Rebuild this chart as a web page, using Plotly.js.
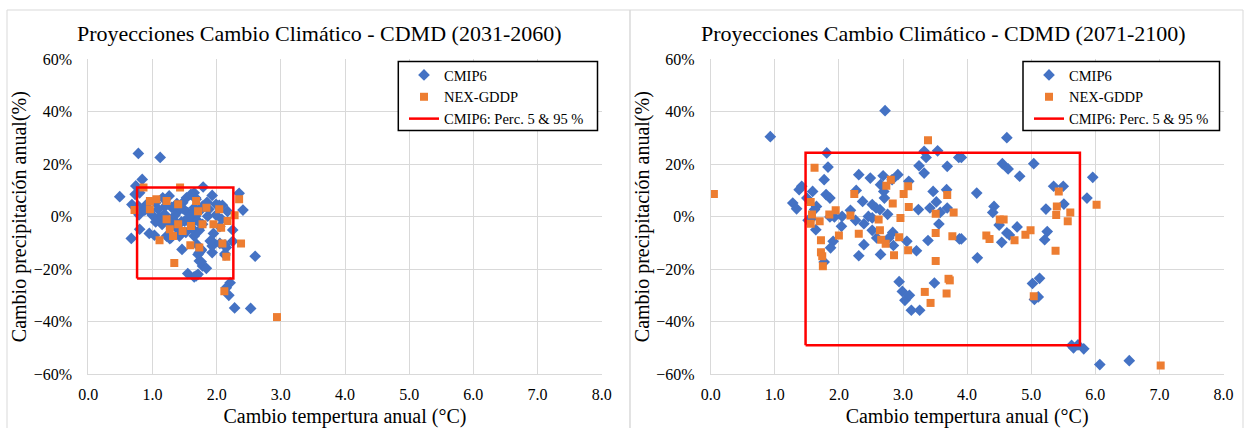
<!DOCTYPE html>
<html>
<head>
<meta charset="utf-8">
<script src="https://cdn.plot.ly/plotly-3.0.1.min.js"></script>
<style>html,body{margin:0;padding:0;background:#fff;}#chart{width:1250px;height:428px;}</style>
</head>
<body>
<div id="chart"></div>
<script>
// ---- Data: period 2031-2060 ----
const cmip6_2031_T = [0.78,1.12,0.84,0.74,0.80,0.73,0.49,0.68,0.78,0.79,0.80,0.67,0.95,1.03,1.22,1.27,1.46,1.55,1.65,1.71,1.73,1.76,1.73,1.78,1.84,1.93,1.93,1.93,1.95,2.05,2.13,2.15,2.25,2.25,2.17,2.09,1.99,1.93,1.79,1.65,1.67,2.35,2.41,2.60,2.21,2.15,2.19,2.28,2.53,0.91,0.95,1.05,1.09,1.16,1.26,1.11,1.19,1.24,1.32,1.29,1.37,1.40,1.47,1.53,1.60,1.50,1.58,1.42,1.60,1.65,1.67,1.69,1.68,2.04,1.78,1.88,1.99,1.86,2.08,1.78,1.73,1.65,1.90,2.05,2.13,1.76,1.71,2.13,1.76,1.68,1.30,1.35,1.45,1.55,1.62,1.52,1.38,1.20,1.00,1.15,1.48,1.56,1.70,1.44,1.34,1.60,1.75,1.85,1.05,0.88];
const cmip6_2031_P = [24.1,22.6,14.2,11.7,9.1,8.5,7.6,4.6,4.0,0.7,-4.8,-8.3,-6.4,-7.1,-7.4,-8.4,-12.5,-21.7,-23.0,-22.0,-13.7,-12.5,-16.9,-18.8,-19.7,-13.7,-11.2,-9.4,-6.4,-3.8,-14.6,-11.8,-9.4,-5.1,2.0,4.3,4.7,8.1,11.3,9.1,7.2,8.9,2.5,-15.1,-25.2,-27.1,-30.0,-34.8,-35.0,4.7,2.1,5.3,2.8,7.2,7.9,-0.4,0.9,-2.3,-1.0,-8.0,-4.2,2.1,5.3,7.2,8.5,-1.7,-0.4,-7.4,-2.9,3.4,0.2,-10.6,6.6,4.3,4.0,2.8,0.6,0.2,-1.0,-2.9,-5.2,-7.4,-9.3,-10.2,-10.8,-12.9,-14.4,-14.1,-17.2,-22.6,3.5,0.5,-2.0,1.5,-4.5,-6.0,5.0,4.0,0.5,-3.0,3.0,-1.0,-1.5,-5.5,-2.8,1.0,2.5,5.5,-2.0,2.5];
const nex_2031_T = [0.86,1.43,2.35,0.72,2.28,2.17,2.07,1.95,1.78,1.60,1.11,1.32,1.59,1.73,2.09,2.38,2.15,1.34,2.12,2.94,0.96,1.06,1.22,1.40,1.68,1.84,1.71,2.04,1.22,1.40,1.27,1.47,0.96];
const nex_2031_P = [11.1,11.1,6.6,2.5,0.5,-1.7,-4.2,-2.9,-2.9,-3.6,-9.0,-7.4,-10.9,-11.8,-10.2,-10.2,-15.3,-17.7,-28.4,-38.3,6.0,6.6,6.0,4.7,6.0,3.4,2.1,2.8,-1.0,-2.9,-4.8,-5.5,2.8];
const perc_2031_T = [0.76, 2.26];   // P5, P95 temperature
const perc_2031_P = [-23.6, 11.1];  // P5, P95 precipitation

// ---- Data: period 2071-2100 ----
const cmip6_2071_T = [0.93,2.72,1.81,1.83,1.77,1.42,1.38,1.59,1.50,1.80,1.86,1.28,1.34,1.65,1.62,1.57,1.52,1.64,1.86,1.93,2.05,2.04,1.91,1.87,1.77,2.18,2.27,2.31,2.49,2.37,2.26,2.39,2.39,2.31,2.52,2.46,2.52,2.52,2.58,2.64,2.59,2.65,2.69,2.65,2.70,2.71,2.76,2.83,2.92,2.78,2.85,2.84,3.09,3.06,3.21,2.94,2.99,3.03,3.10,3.13,3.26,3.24,3.25,3.33,3.36,3.33,3.42,3.47,3.52,3.58,3.56,3.39,3.49,3.54,3.69,3.68,3.69,3.87,3.88,4.62,3.91,4.55,4.64,5.04,4.82,5.35,5.50,5.96,4.15,5.87,5.51,4.42,4.40,5.23,4.50,4.78,4.62,4.66,5.25,5.21,4.54,3.91,4.16,5.02,5.13,5.05,5.11,5.63,5.66,5.73,5.82,6.07,6.53];
const cmip6_2071_P = [30.5,40.4,24.3,18.9,14.1,11.6,10.3,9.6,7.1,8.4,7.1,5.2,3.0,3.9,2.7,-0.8,-1.4,-5.0,-0.1,-0.1,0.1,-3.7,-9.4,-11.9,-17.3,2.4,10.0,16.0,14.7,5.8,-1.4,-2.7,-10.7,-14.9,4.6,0.1,-0.5,-5.2,3.3,2.7,-8.1,-14.4,15.6,12.2,9.6,7.1,0.9,14.1,16.0,-8.1,-11.0,-6.0,13.5,-9.4,-13.0,-24.8,-28.5,-31.9,-30.0,-35.7,-35.7,2.7,19.4,24.9,22.6,16.6,3.3,9.6,5.6,1.6,-2.8,-9.1,-25.3,25.1,19.2,10.3,3.3,22.6,-8.5,30.1,22.6,20.2,18.2,20.2,15.4,11.6,11.6,15.0,9.0,7.1,4.8,3.9,1.6,2.9,-3.2,-3.9,-6.2,-7.0,-5.7,-8.8,-9.8,-8.5,-15.7,-25.5,-23.5,-31.6,-30.6,-49.1,-50.0,-48.9,-50.4,-56.4,-54.9];
const nex_2071_T = [0.05,1.62,1.56,1.58,1.56,1.70,1.72,1.72,1.74,1.75,1.85,1.95,2.00,2.24,2.18,2.31,2.62,2.64,2.66,2.73,2.74,2.81,2.84,2.86,2.96,2.94,3.01,3.08,3.09,3.08,3.39,3.34,3.43,3.51,3.51,3.51,3.69,3.71,3.73,3.68,3.77,3.79,5.43,5.40,5.39,5.61,5.57,6.02,4.51,4.57,4.30,4.35,4.74,4.91,4.99,5.38,5.04,7.02];
const nex_2071_P = [8.6,18.6,5.6,0.8,-2.7,-1.8,-9.0,-13.6,-15.1,-18.9,0.8,2.4,-7.2,8.6,0.4,-6.5,-1.1,-5.2,-8.8,-10.3,11.8,14.1,5.0,-14.7,-0.5,-7.9,8.6,11.6,3.7,-12.8,29.1,-28.7,-32.9,1.1,-6.2,-16.9,8.3,-23.7,-24.3,-29.3,-7.5,1.6,9.6,3.9,0.6,1.6,-1.8,4.5,-1.1,-1.1,-7.2,-8.5,-9.0,-6.9,-5.2,-13.0,-30.4,-56.8];
const perc_2071_T = [1.48, 5.76];
const perc_2071_P = [-49.0, 24.4];

const titles = ['Proyecciones Cambio Climático - CDMD (2031-2060)', 'Proyecciones Cambio Climático - CDMD (2071-2100)'];
const xTitle = 'Cambio tempertura anual (°C)';
const yTitle = 'Cambio precipitación anual(%)';
const names = ['CMIP6', 'NEX-GDDP', 'CMIP6: Perc. 5 & 95 %'];

// ---- Styling ----
const W = 1250, H = 428;
const px = v => v / W;
const py = v => 1 - v / H;
const FONT = 'Liberation Serif, Times New Roman, serif';
const BLUE = '#4472C4', ORANGE = '#ED7D31', RED = '#FF0000', GRID = '#d9d9d9';

function rectPath(T, P) {
  return { x: [T[0], T[1], T[1], T[0], T[0]], y: [P[0], P[0], P[1], P[1], P[0]] };
}

function panelTraces(cT, cP, nT, nP, pT, pP, xa, ya, lg) {
  const r = rectPath(pT, pP);
  return [
    { type: 'scatter', mode: 'markers', x: cT, y: cP, xaxis: xa, yaxis: ya, legend: lg, name: names[0], legendgroup: lg + 'a',
      marker: { symbol: 'diamond', size: 9, color: BLUE, line: { width: 0 } }, hoverinfo: 'x+y' },
    { type: 'scatter', mode: 'markers', x: nT, y: nP, xaxis: xa, yaxis: ya, legend: lg, name: names[1], legendgroup: lg + 'b',
      marker: { symbol: 'square', size: 8, color: ORANGE, line: { width: 0 } }, hoverinfo: 'x+y' },
    { type: 'scatter', mode: 'lines', x: r.x, y: r.y, xaxis: xa, yaxis: ya, legend: lg, name: names[2], legendgroup: lg + 'c',
      line: { color: RED, width: 2.5 }, hoverinfo: 'skip' }
  ];
}

const traces = [].concat(
  panelTraces(cmip6_2031_T, cmip6_2031_P, nex_2031_T, nex_2031_P, perc_2031_T, perc_2031_P, 'x', 'y', 'legend'),
  panelTraces(cmip6_2071_T, cmip6_2071_P, nex_2071_T, nex_2071_P, perc_2071_T, perc_2071_P, 'x2', 'y2', 'legend2')
);

const yDom = [py(374), py(59.3)];
function xAxis(dom, anchor) {
  return {
    domain: dom, anchor: anchor, range: [0, 8], dtick: 1, tick0: 0, tickformat: '.1f',
    showgrid: true, gridcolor: GRID, gridwidth: 1, zeroline: false,
    showline: true, linecolor: GRID, linewidth: 1, ticks: '', ticklabelstandoff: 6,
    tickfont: { family: FONT, size: 16, color: '#000' },
    title: { text: xTitle, font: { family: FONT, size: 20, color: '#000' }, standoff: 10 },
    fixedrange: true
  };
}
function yAxis(anchor) {
  return {
    domain: yDom, anchor: anchor, range: [-60, 60], dtick: 20, tick0: 0, ticksuffix: '%',
    showgrid: true, gridcolor: GRID, gridwidth: 1, zeroline: false,
    showline: true, linecolor: GRID, linewidth: 1, ticks: '', ticklabelstandoff: 12,
    tickfont: { family: FONT, size: 16, color: '#000' },
    title: { text: yTitle, font: { family: FONT, size: 20, color: '#000' }, standoff: 1 },
    fixedrange: true
  };
}

function legendCfg(xLeft) {
  return {
    x: px(xLeft), y: py(59), xanchor: 'left', yanchor: 'top', xref: 'paper', yref: 'paper',
    bgcolor: 'rgba(0,0,0,0)', borderwidth: 0, orientation: 'v', tracegroupgap: 0,
    font: { family: FONT, size: 14.5, color: '#000' }, itemclick: false, itemdoubleclick: false
  };
}

const layout = {
  width: W, height: H,
  margin: { l: 0, r: 0, t: 0, b: 0, autoexpand: false },
  paper_bgcolor: '#fff', plot_bgcolor: '#fff',
  showlegend: true,
  xaxis: xAxis([px(88.3), px(601.7)], 'y'),
  yaxis: yAxis('x'),
  xaxis2: xAxis([px(710.7), px(1223.5)], 'y2'),
  yaxis2: yAxis('x2'),
  legend: legendCfg(404),
  legend2: legendCfg(1029),
  annotations: [
    { text: titles[0], xref: 'paper', yref: 'paper', x: px(319), y: py(33), xanchor: 'center', yanchor: 'middle',
      showarrow: false, font: { family: FONT, size: 22, color: '#000' } },
    { text: titles[1], xref: 'paper', yref: 'paper', x: px(943), y: py(33), xanchor: 'center', yanchor: 'middle',
      showarrow: false, font: { family: FONT, size: 22, color: '#000' } }
  ],
  shapes: [
    { type: 'rect', xref: 'paper', yref: 'paper', x0: px(7), x1: px(630), y0: py(440), y1: py(10),
      line: { color: GRID, width: 1 }, layer: 'below' },
    { type: 'rect', xref: 'paper', yref: 'paper', x0: px(630), x1: px(1243), y0: py(440), y1: py(10),
      line: { color: GRID, width: 1 }, layer: 'below' },
    { type: 'rect', xref: 'paper', yref: 'paper', x0: px(398.3), x1: px(597.5), y0: py(130.5), y1: py(61.5),
      line: { color: '#000', width: 1.5 }, fillcolor: '#fff', layer: 'above' },
    { type: 'rect', xref: 'paper', yref: 'paper', x0: px(1023), x1: px(1219.5), y0: py(130.5), y1: py(61.5),
      line: { color: '#000', width: 1.5 }, fillcolor: '#fff', layer: 'above' }
  ]
};

Plotly.newPlot('chart', traces, layout, { staticPlot: true, displayModeBar: false });
</script>
</body>
</html>
